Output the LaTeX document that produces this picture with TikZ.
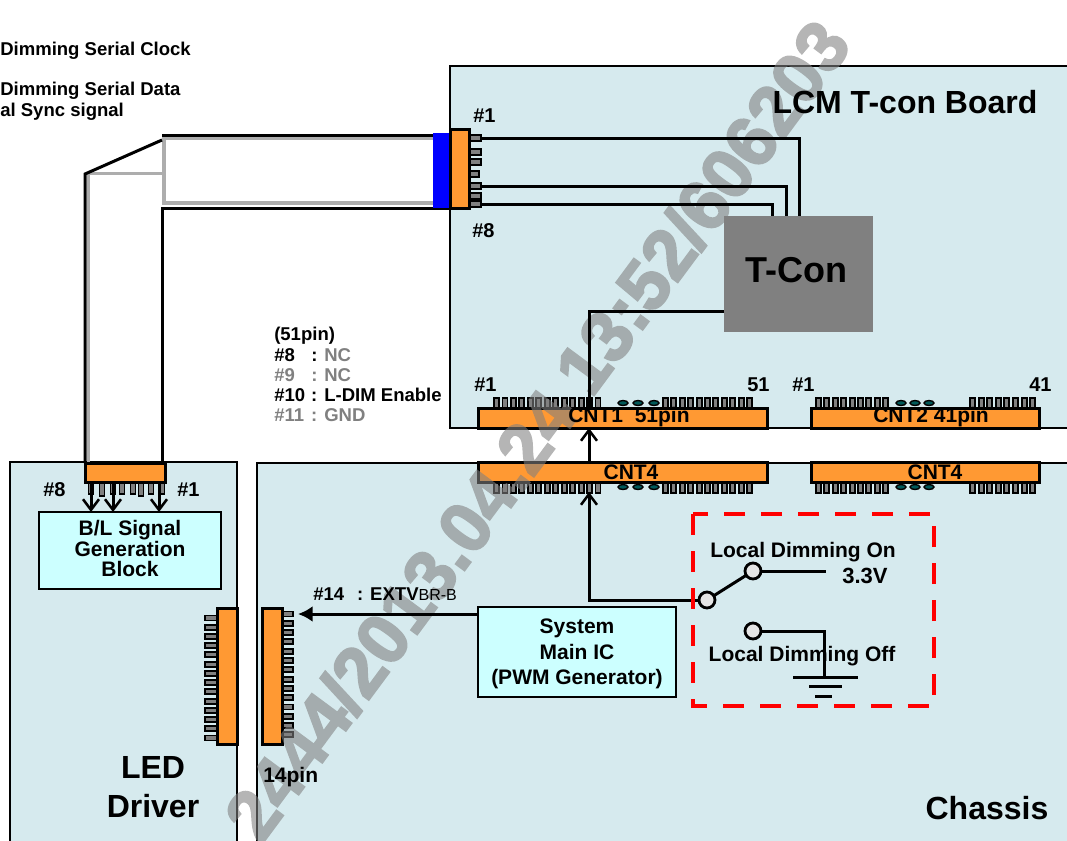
\documentclass[tikz,border=0pt]{standalone}
\usepackage{fontspec}
\setmainfont{Liberation Sans}
\newfontfamily\stampfont[FakeBold=3]{Liberation Sans Bold}
\usetikzlibrary{arrows.meta, positioning}
\newdimen\px
\px=.75pt
\definecolor{boardblue}{HTML}{D6EAEE}
\definecolor{boxcyan}{HTML}{CCFFFF}
\definecolor{conorange}{HTML}{FF9933}
\definecolor{pingray}{HTML}{808080}
\newcommand{\pinnum}[1]{\makebox[37\px][l]{#1}}
\tikzset{
    board/.style={draw=black, line width=2.8\px, fill=boardblue, outer sep=0pt},
    icbox/.style={draw=black, line width=2.8\px, fill=boxcyan, outer sep=0pt},
    cntbox/.style={draw=black, line width=3\px, fill=conorange, outer sep=0pt},
    pinv/.style={draw=black, line width=1.9\px, fill=pingray},
    dotpin/.style={draw=black, line width=1.4\px, fill=teal!70!black},
    wire/.style={draw=black, line width=3\px},
    barb/.style={-{Straight Barb[length=8pt, width=12pt, line width=1.9pt]}},
    contact/.style={circle, draw=black, line width=2.8\px, fill=black!10, minimum size=16\px, inner sep=0pt, outer sep=0pt},
    lblsmall/.style={font=\fontsize{13.9}{16}\selectfont\bfseries, inner sep=0pt},
    lblnum/.style={font=\fontsize{15}{18}\selectfont\bfseries, inner sep=0pt},
    lblcnt/.style={font=\fontsize{15.75}{18}\selectfont\bfseries, inner sep=0pt, align=center},
    lblbig/.style={font=\fontsize{24}{30}\selectfont\bfseries, inner sep=0pt},
}
\begin{document}
\begin{tikzpicture}[x=.75pt,y=-.75pt]
    \useasboundingbox (0,0) rectangle (1067,840);
    \clip (0,0) rectangle (1067,840);
    \node[board, minimum width=640\px, minimum height=362\px] (lcmboard) at (770,247) {};
    \node[board, minimum width=830\px, minimum height=400\px] (chassis) at (672,663) {};
    \node[board, minimum width=227\px, minimum height=400\px] (leddriver) at (123.5,662) {};
    \node[fill=pingray, minimum width=149\px, minimum height=116\px, inner sep=0pt, outer sep=0pt] (tcon) at (798.5,274) {};

    \draw[line width=3.4\px, black!32] (433,138.5) -- (164,138.5) -- (164,203) -- (433,203);
    \draw[line width=3.4\px, black!32] (162,173.5) -- (88.5,173.5) -- (88.5,463);
    \draw[wire] (433,135) -- (162,135);
    \draw[wire] (450,208) -- (162,208) -- (162,463);
    \draw[wire] (162,140) -- (85,174) -- (85,463);

    \node[fill=blue, minimum width=16\px, minimum height=75\px, inner sep=0pt, outer sep=0pt] (cableblue) at (441,170.5) {};
    \foreach \y in {138,152,162,186,196,204} \draw[pinv] (470,\y-3) rectangle +(11,6);
    \draw[pinv] (468,171) rectangle +(11,6);
    \node[cntbox, minimum width=19\px, minimum height=79\px] (cableend) at (459.5,168.5) {};

    \foreach \i in {0,...,12} \draw[pinv] ({494+8.46*\i},398) rectangle +(5,10);
    \foreach \i in {0,...,10} \draw[pinv] ({663+8.4*\i},398) rectangle +(5,10);
    \foreach \i in {0,...,8} \draw[pinv] ({816+8.4*\i},398) rectangle +(5,10);
    \foreach \i in {0,...,7} \draw[pinv] ({970+8.6*\i},398) rectangle +(5,10);
    \foreach \i in {0,...,12} \draw[pinv] ({494+8.46*\i},482) rectangle +(5,11);
    \foreach \i in {0,...,10} \draw[pinv] ({663+8.4*\i},482) rectangle +(5,11);
    \foreach \i in {0,...,8} \draw[pinv] ({816+8.4*\i},482) rectangle +(5,11);
    \foreach \i in {0,...,7} \draw[pinv] ({970+8.6*\i},482) rectangle +(5,11);
    \foreach \x in {623,638,654} {
        \draw[dotpin] (\x,403) ellipse (5 and 2.5);
        \draw[dotpin] (\x,487) ellipse (5 and 2.5);
    }
    \foreach \x in {901,915,929} {
        \draw[dotpin] (\x,403) ellipse (5 and 2.5);
        \draw[dotpin] (\x,487) ellipse (5 and 2.5);
    }
    \node[cntbox, minimum width=289\px, minimum height=20\px] (cntone) at (622.5,418) {};
    \node[cntbox, minimum width=228\px, minimum height=20\px] (cnttwo) at (925,418) {};
    \node[cntbox, minimum width=289\px, minimum height=20\px] (cntfour) at (622.5,472) {};
    \node[cntbox, minimum width=228\px, minimum height=20\px] (cntfive) at (925,472) {};

    \foreach \x/\h in {91/11,102/13,113/11,122/11,133/11,141/13,151/11,162/11} \draw[pinv] (\x-2.5,483) rectangle +(5,\h);
    \node[cntbox, minimum width=80\px, minimum height=19\px] (cableled) at (125,472.5) {};
    \foreach \y in {0,...,13} \draw[pinv] (205,{618+9.23*\y-2.5}) rectangle +(12,5);
    \foreach \y in {0,...,13} \draw[pinv] (282,{614+9.3*\y-2.5}) rectangle +(11,5);
    \node[cntbox, minimum width=20\px, minimum height=136\px] (connled) at (227,676) {};
    \node[cntbox, minimum width=20\px, minimum height=136\px] (connchassis) at (272,676) {};

    \node[icbox, minimum width=182\px, minimum height=77\px] (blblock) at (130,550.5) {};
    \node[icbox, minimum width=198\px, minimum height=90\px] (mainic) at (577,652) {};

    \begin{scope}[transparency group, opacity=.58]
        \node[rotate=53.5, text=black!50, font=\fontsize{53.5}{60}\stampfont, inner sep=0pt] (stamp) at (537,430) {2444/2013.04.24 13:52/606203};
    \end{scope}

    \coordinate (pina) at (481,138);
    \coordinate (pinb) at (481,186);
    \coordinate (pinc) at (481,204);
    \coordinate (wirex) at (589,311);
    \coordinate (icout) at (298,614);
    \draw[wire] (pina) -| (tcon.north -| 799,0);
    \draw[wire] (pinb) -| (tcon.north -| 786,0);
    \draw[wire] (pinc) -| (tcon.north -| 772,0);
    \draw[wire] (tcon.west |- wirex) -- (wirex) -- (cntone.north -| wirex);
    \draw[wire, barb] (cntfour.north -| wirex) -- (cntone.south -| wirex);
    \draw[wire, -{Latex[length=11pt, width=12pt]}] (mainic.west |- icout) -- (icout);
    \draw[wire, barb] (cableled.south -| 91,0) -- (blblock.north -| 91,0);
    \draw[wire, barb] (cableled.south -| 113,0) -- (blblock.north -| 113,0);
    \draw[wire, barb] (cableled.south -| 159,0) -- (blblock.north -| 159,0);

    \node[contact] (swcom) at (707,600) {};
    \node[contact] (swon) at (753,571) {};
    \node[contact] (swoff) at (753,631) {};
    \coordinate (onend) at (826,571);
    \coordinate (gnd) at (824,677);
    \coordinate (cfbot) at (589,492);
    \draw[wire] (swcom) -- (swon);
    \draw[wire] (swon) -- (onend);
    \draw[wire] (swoff) -| (gnd);
    \draw[wire, barb] (swcom) -| (cfbot);
    \draw[wire] (793,677) -- (858,677);
    \draw[wire] (809,686) -- (842,686);
    \draw[wire] (815,696) -- (832,696);
    \draw[red, line width=4.6\px, dash pattern=on 21\px off 16\px] (693,514) rectangle (934,706);

    \node[lblsmall, anchor=west] (txtclock) at (0,51) {Dimming Serial Clock};
    \node[lblsmall, anchor=west] (txtdata) at (0,91) {Dimming Serial Data};
    \node[lblsmall, anchor=west] (txtsync) at (0,112) {al Sync signal};
    \node[lblsmall, anchor=west] (txtpins) at (274,336) {(51pin)};
    \node[lblsmall, anchor=west] (txtpineight) at (274,355) {\pinnum{\#8}: \textcolor{pingray}{NC}};
    \node[lblsmall, anchor=west, text=pingray] (txtpinnine) at (274,375) {\pinnum{\#9}: NC};
    \node[lblsmall, anchor=west] (txtpinten) at (274,395) {\pinnum{\#10}: L-DIM Enable};
    \node[lblsmall, anchor=west, text=pingray] (txtpineleven) at (274,415) {\pinnum{\#11}: GND};
    \node[lblnum, anchor=west] (numa) at (473,116) {\#1};
    \node[lblnum, anchor=west] (numb) at (472,231) {\#8};
    \node[lblnum, anchor=west] (numc) at (474,385) {\#1};
    \node[lblnum, anchor=west] (numd) at (747,385) {51};
    \node[lblnum, anchor=west] (nume) at (792,385) {\#1};
    \node[lblnum, anchor=west] (numf) at (1029,385) {41};
    \node[lblnum, anchor=west] (numg) at (43,490) {\#8};
    \node[lblnum, anchor=west] (numh) at (177,490) {\#1};
    \node[lblcnt] (txtcntone) at (629,417.5) {CNT1\ \ 51pin};
    \node[lblcnt] (txtcnttwo) at (931,417.5) {CNT2 41pin};
    \node[lblcnt] (txtcntfour) at (631,472) {CNT4};
    \node[lblcnt] (txtcntfive) at (935,472) {CNT4};
    \node[lblcnt] (txton) at (803,552) {Local Dimming On};
    \node[lblcnt] (txtoff) at (802,656) {Local Dimming Off};
    \node[lblcnt, font=\fontsize{16.5}{18}\selectfont\bfseries] (txtvolt) at (865,576) {3.3V};
    \node[lblcnt, font=\fontsize{15.75}{15.7}\selectfont\bfseries] (txtblock) at (130,548.5) {B/L Signal\\Generation\\Block};
    \node[lblcnt, font=\fontsize{15.75}{19}\selectfont\bfseries] (txtmainic) at (577,654) {System\\Main IC\\(PWM Generator)};
    \node[lblsmall, anchor=west] (txtext) at (313,594) {\#14\hspace*{13\px}: EXTV{\mdseries\fontsize{12}{14}\selectfont BR-B}};
    \node[lblcnt, anchor=west] (txtfourteen) at (263,777) {14pin};
    \node[lblbig] (txtlcm) at (905,102) {LCM T-con Board};
    \node[lblbig, font=\fontsize{27}{30}\selectfont\bfseries] (txttcon) at (796,270) {T-Con};
    \node[lblbig] (txtled) at (153,767) {LED};
    \node[lblbig] (txtdriver) at (153,806) {Driver};
    \node[lblbig] (txtchassis) at (987,808) {Chassis};
\end{tikzpicture}
\end{document}
